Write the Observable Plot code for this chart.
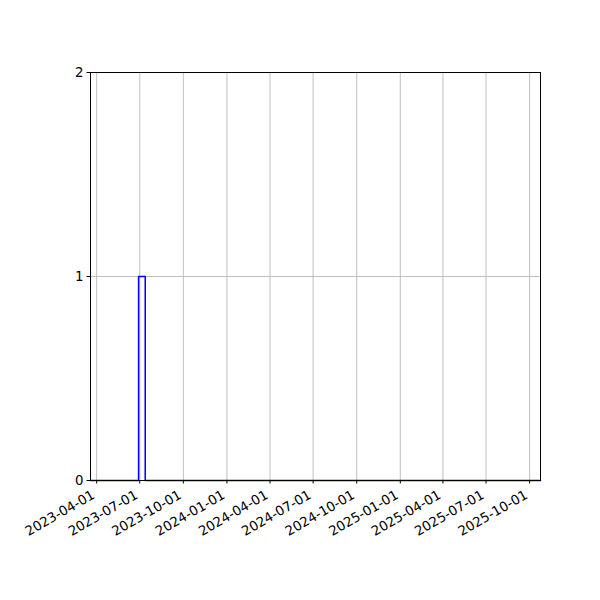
<!DOCTYPE html>
<html>
<head>
<meta charset="utf-8">
<script src="https://cdn.jsdelivr.net/npm/d3@7"></script>
<script src="https://cdn.jsdelivr.net/npm/@observablehq/plot@0.6"></script>
<style>
  html, body { margin: 0; padding: 0; background: #fff; }
</style>
</head>
<body>
<div id="chart"></div>
<script>
// Weekly counts (only the weeks where the value changes are listed; the rest are 0)
const dates = ["2023-03-19", "2023-06-25", "2023-07-02", "2023-07-09", "2023-07-16", "2025-10-24"];
const counts = [0, 0, 1, 1, 0, 0];
const xTickLabels = ["2023-04-01", "2023-07-01", "2023-10-01", "2024-01-01", "2024-04-01", "2024-07-01",
                     "2024-10-01", "2025-01-01", "2025-04-01", "2025-07-01", "2025-10-01"];
const yTicks = [0, 1, 2];
const xDomain = ["2023-03-19", "2025-10-24"];

const data = dates.map((d, i) => ({date: new Date(d + "T00:00:00Z"), count: counts[i]}));
const xTicks = xTickLabels.map(d => new Date(d + "T00:00:00Z"));
const fmt = d3.utcFormat("%Y-%m-%d");

const chart = Plot.plot({
  width: 600,
  height: 600,
  marginLeft: 90,
  marginRight: 60,
  marginTop: 72,
  marginBottom: 120,
  style: {fontFamily: "DejaVu Sans", fontSize: "13.33px", background: "#fff", color: "#000"},
  x: {type: "utc", domain: xDomain.map(d => new Date(d + "T00:00:00Z"))},
  y: {domain: [0, 2]},
  marks: [
    Plot.gridX(xTicks, {stroke: "#b0b0b0", strokeOpacity: 1, strokeWidth: 0.8}),
    Plot.gridY(yTicks, {stroke: "#b0b0b0", strokeOpacity: 1, strokeWidth: 0.8}),
    Plot.line(data, {x: "date", y: "count", curve: "step", stroke: "blue", strokeWidth: 1.5}),
    Plot.frame({stroke: "black", strokeWidth: 1}),
    Plot.axisX(xTicks, {tickSize: 3.5, tickFormat: () => "", label: null}),
    Plot.text(xTicks, {x: d => d, frameAnchor: "bottom", text: d => fmt(d), rotate: -30,
                       textAnchor: "end", lineAnchor: "bottom", dx: -1, dy: 17, fontSize: 13.33,
                       fill: "black"}),
    Plot.axisY(yTicks, {tickFormat: d => String(d), tickSize: 3.5, tickPadding: 3.5,
                        label: null, fontSize: 13.33})
  ]
});
document.getElementById("chart").appendChild(chart);
</script>
</body>
</html>
